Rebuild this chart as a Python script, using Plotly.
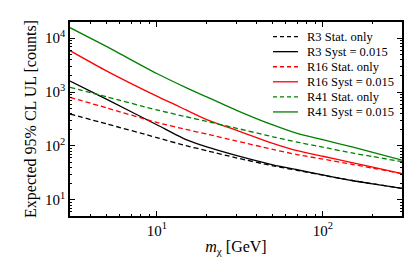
import plotly.graph_objects as go

mass = [3, 5, 10, 15, 20, 30, 50, 70, 100, 150, 200, 300]

r3_stat = [392, 256, 143, 101, 81.5, 60.3, 42.8, 35.3, 28.6, 22.8, 19.8, 16.3]
r3_syst = [1602, 731, 247, 130.5, 95.7, 66.6, 44.6, 36.1, 29.1, 22.8, 19.8, 16.3]
r16_stat = [799, 507, 273, 202, 166, 124, 86.2, 69.1, 56.9, 45.6, 38.7, 30.6]
r16_syst = [5880, 2450, 838, 466, 308, 196, 111.5, 81.5, 64.3, 49.1, 40.5, 30.6]
r41_stat = [1224, 815, 466, 349, 286, 214, 148, 118, 95, 74, 63.5, 50.9]
r41_syst = [15700, 6970, 2210, 1209, 812, 464, 245, 171, 130.5, 95.7, 75.8, 54.5]

series_names = ["R3 Stat. only", "R3 Syst = 0.015", "R16 Stat. only",
                "R16 Syst = 0.015", "R41 Stat. only", "R41 Syst = 0.015"]
series_values = [r3_stat, r3_syst, r16_stat, r16_syst, r41_stat, r41_syst]
series_colors = ["black", "black", "#ff0000", "#ff0000", "#008000", "#008000"]
series_dashes = ["5px,3px", "solid"] * 3

x_tickvals = [10, 100]
x_ticktext = ["10<sup>1</sup>", "10<sup>2</sup>"]
y_tickvals = [10, 100, 1000, 10000]
y_ticktext = ["10<sup>1</sup>", "10<sup>2</sup>", "10<sup>3</sup>", "10<sup>4</sup>"]

font = "Liberation Serif, DejaVu Serif, serif"

# plot-area geometry (pixels) used for the hand-made legend
W, H = 415, 257
ML, MR, MT, MB = 62, 21, 12, 39
PW, PH = W - ML - MR, H - MT - MB


def px_to_paper(px, py):
    return (px - ML) / PW, (H - MB - py) / PH


fig = go.Figure()
shapes, annotations = [], []
for i, (name, vals, color, dash) in enumerate(zip(series_names, series_values,
                                                   series_colors, series_dashes)):
    fig.add_trace(go.Scatter(x=mass, y=vals, mode="lines", name=name,
                             showlegend=False, line_shape="spline",
                             line=dict(color=color, width=1.3, dash=dash, smoothing=0.6)))
    ly = 27.5 + 16 * i
    x0, y0 = px_to_paper(265, ly)
    x1, _ = px_to_paper(290, ly)
    shapes.append(dict(type="line", xref="paper", yref="paper",
                       x0=x0, x1=x1, y0=y0, y1=y0,
                       line=dict(color=color, width=1.3,
                                 dash="4px,3px" if dash != "solid" else "solid")))
    tx, _ = px_to_paper(297, ly)
    annotations.append(dict(xref="paper", yref="paper", x=tx, y=y0,
                            xanchor="left", yanchor="middle", showarrow=False,
                            text=name, font=dict(family=font, size=12.5, color="black")))

x_minor = [4, 5, 6, 7, 8, 9, 20, 30, 40, 50, 60, 70, 80, 90, 200, 300]
y_minor = [6, 7, 8, 9] + [k * 10 for k in range(2, 10)] + [k * 100 for k in range(2, 10)] \
    + [k * 1000 for k in range(2, 10)] + [20000]

axis_common = dict(
    showline=True, linecolor="black", linewidth=1.5, mirror="ticks",
    ticks="inside", ticklen=5, tickwidth=1, tickcolor="black",
    showgrid=False, zeroline=False,
    tickfont=dict(family=font, size=15, color="black"),
)

fig.update_layout(
    width=W, height=H,
    margin=dict(l=ML, r=MR, t=MT, b=MB),
    paper_bgcolor="white", plot_bgcolor="white",
    font=dict(family=font, color="black"),
    showlegend=False,
    shapes=shapes, annotations=annotations,
    xaxis=dict(type="log", range=[0.47712, 2.47712],
               tickmode="array", tickvals=x_tickvals, ticktext=x_ticktext,
               minor=dict(tickmode="array", tickvals=x_minor, ticks="inside",
                          ticklen=2.5, tickcolor="black", showgrid=False),
               title=dict(text="<i>m</i><sub>χ</sub> [GeV]", standoff=3,
                          font=dict(family=font, size=16, color="black")),
               **axis_common),
    yaxis=dict(type="log", range=[0.69897, 4.30103],
               tickmode="array", tickvals=y_tickvals, ticktext=y_ticktext,
               minor=dict(tickmode="array", tickvals=y_minor, ticks="inside",
                          ticklen=2.5, tickcolor="black", showgrid=False),
               title=dict(text="Expected 95% CL UL [counts]", standoff=4,
                          font=dict(family=font, size=16, color="black")),
               **axis_common),
)

fig.write_html("out.html")
